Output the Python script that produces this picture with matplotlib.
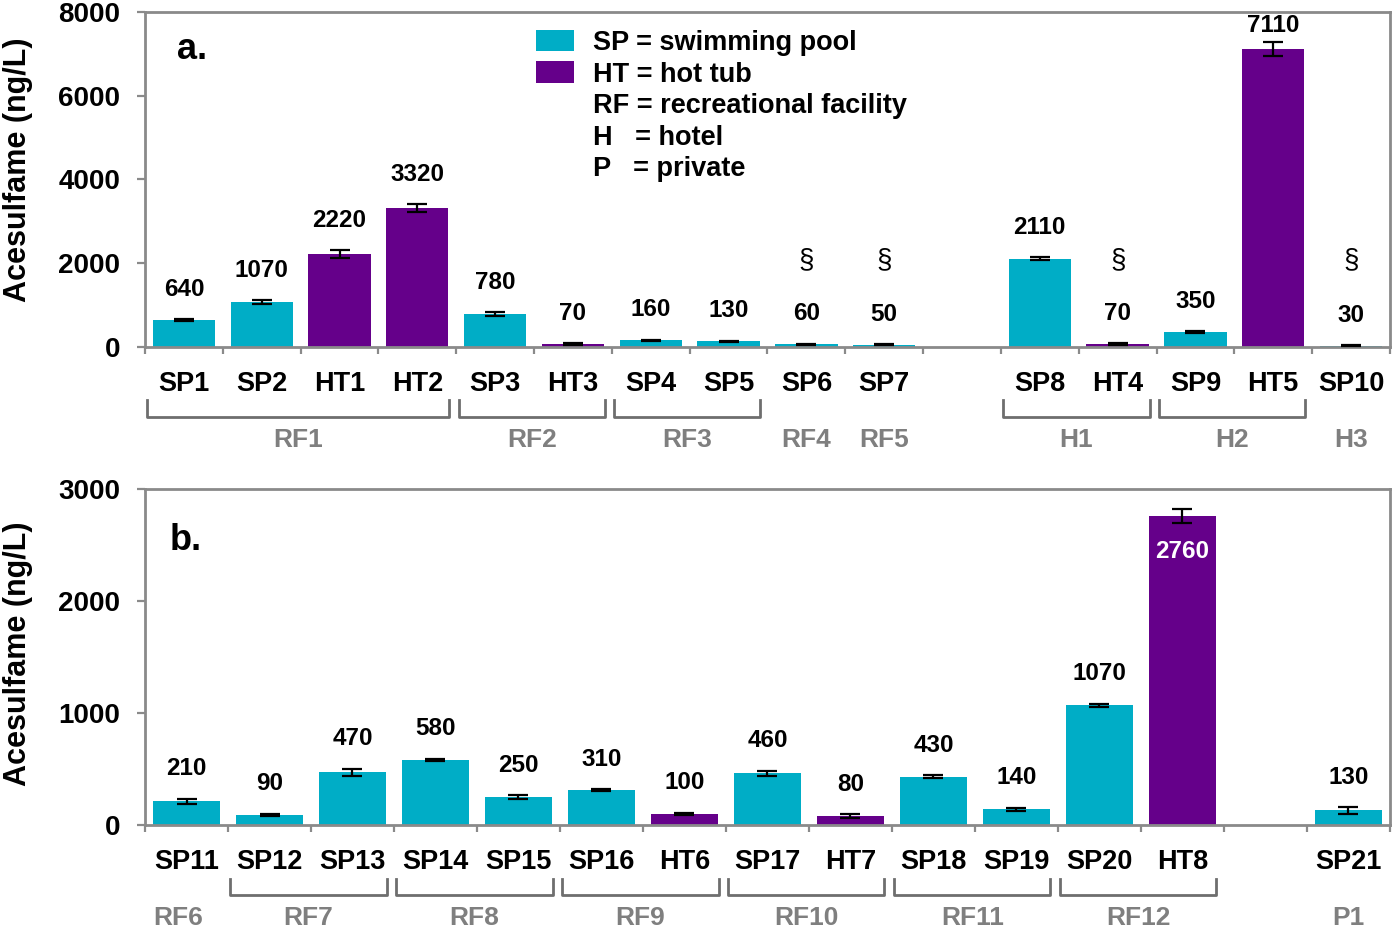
import numpy as np
import matplotlib
matplotlib.use("Agg")
import matplotlib.pyplot as plt
import matplotlib.transforms as mtransforms
from matplotlib.patches import Patch

plt.rcParams['font.family'] = ['Liberation Sans', 'DejaVu Sans']
plt.rcParams['font.weight'] = 'bold'

# ---- data (panel a) ----
top_names = ["SP1", "SP2", "HT1", "HT2", "SP3", "HT3", "SP4", "SP5", "SP6", "SP7",
             "", "SP8", "HT4", "SP9", "HT5", "SP10"]
top_values = [640, 1070, 2220, 3320, 780, 70, 160, 130, 60, 50,
              np.nan, 2110, 70, 350, 7110, 30]
top_errors = [25, 40, 95, 85, 45, 15, 15, 15, 15, 10,
              np.nan, 30, 15, 20, 170, 8]
top_groups = [("RF1", "SP1", "HT2"), ("RF2", "SP3", "HT3"), ("RF3", "SP4", "SP5"),
              ("RF4", "SP6", "SP6"), ("RF5", "SP7", "SP7"), ("H1", "SP8", "HT4"),
              ("H2", "SP9", "HT5"), ("H3", "SP10", "SP10")]
top_flagged = ["SP6", "SP7", "HT4", "SP10"]

# ---- data (panel b) ----
bot_names = ["SP11", "SP12", "SP13", "SP14", "SP15", "SP16", "HT6", "SP17", "HT7",
             "SP18", "SP19", "SP20", "HT8", "", "SP21"]
bot_values = [210, 90, 470, 580, 250, 310, 100, 460, 80, 430, 140, 1070, 2760, np.nan, 130]
bot_errors = [25, 10, 30, 12, 15, 10, 10, 25, 15, 12, 12, 12, 65, np.nan, 30]
bot_groups = [("RF6", "SP11", "SP11"), ("RF7", "SP12", "SP13"), ("RF8", "SP14", "SP15"),
              ("RF9", "SP16", "HT6"), ("RF10", "SP17", "HT7"), ("RF11", "SP18", "SP19"),
              ("RF12", "SP20", "HT8"), ("P1", "SP21", "SP21")]

legend_labels = ["SP = swimming pool", "HT = hot tub", "RF = recreational facility",
                 "H   = hotel", "P   = private"]

TEAL = "#00ADC6"
PURPLE = "#65008A"
GRAY = "#8a8a8a"
BRACKET = "#6e6e6e"
LABEL_GRAY = "#7f7f7f"


def draw_panel(ax, names, values, errors, groups, ymax, ystep, tag, tag_pos,
               ylabel_y, inside=(), capped=(), flagged=()):
    x = np.arange(len(names))
    colors = [PURPLE if n.startswith("HT") else TEAL for n in names]
    ax.bar(x, values, width=0.8, color=colors, zorder=2)
    ax.errorbar(x, values, yerr=errors, fmt='none', ecolor='black',
                elinewidth=1.6, capsize=7, capthick=1.6, zorder=3)

    # value labels
    for xi, n, v, e in zip(x, names, values, errors):
        if np.isnan(v):
            continue
        if n in inside:
            ax.annotate(f"{v:.0f}", (xi, v), xytext=(0, -35), textcoords='offset pixels',
                        ha='center', va='center', fontsize=17.5, color='white')
        else:
            off = 17 if n in capped else 30
            ax.annotate(f"{v:.0f}", (xi, v + e), xytext=(0, off), textcoords='offset pixels',
                        ha='center', va='center', fontsize=17.5)

    for n in flagged:
        ax.text(names.index(n), 2080, "§", ha='center', va='center',
                fontsize=20, fontweight='normal')

    ax.set_xlim(-0.5, len(names) - 0.5)
    ax.set_ylim(0, ymax)
    ax.set_yticks(np.arange(0, ymax + 1, ystep))
    ax.set_xticks(np.arange(-0.5, len(names)))
    ax.set_xticks(x, names, minor=True)
    ax.tick_params(axis='x', which='major', direction='out', length=5, width=1.6,
                   color=GRAY, labelbottom=False)
    ax.tick_params(axis='x', which='minor', length=0, pad=17, labelsize=19.5)
    ax.tick_params(axis='y', direction='out', length=6, width=1.6, color=GRAY,
                   labelsize=20, pad=12)
    for s in ax.spines.values():
        s.set_color(GRAY)
        s.set_linewidth(2)

    # group brackets and labels
    trans = mtransforms.blended_transform_factory(ax.transData, ax.transAxes)
    for label, first, last in groups:
        i0, i1 = names.index(first), names.index(last)
        if i0 != i1:
            x0, x1 = i0 - 0.47, i1 + 0.41
            ax.plot([x0, x0, x1, x1], [-0.16, -0.21, -0.21, -0.16], transform=trans,
                    color=BRACKET, lw=2, clip_on=False, solid_joinstyle='round')
            cx = (x0 + x1) / 2
        else:
            cx = i0 - 0.1 if label == "RF6" else i0
        ax.text(cx, -0.278, label, transform=trans, ha='center', va='center',
                color=LABEL_GRAY, fontsize=19)

    ax.text(tag_pos[0], tag_pos[1], tag, transform=ax.transAxes, ha='center',
            va='center', fontsize=26)
    ax.set_ylabel("Acesulfame (ng/L)", fontsize=22, fontweight='bold')
    ax.yaxis.set_label_coords(-0.09, ylabel_y)


fig = plt.figure(figsize=(13.93, 9.30), dpi=100)
ax_a = fig.add_axes([0.1041, 0.627, 0.8937, 0.360])
ax_b = fig.add_axes([0.1041, 0.113, 0.8937, 0.361])

draw_panel(ax_a, top_names, top_values, top_errors, top_groups, 8000, 2000,
           "a.", (0.038, 0.887), 0.53, capped=("HT5",), flagged=top_flagged)
draw_panel(ax_b, bot_names, bot_values, bot_errors, bot_groups, 3000, 1000,
           "b.", (0.033, 0.848), 0.51, inside=("HT8",))

handles = [Patch(facecolor=TEAL), Patch(facecolor=PURPLE)] + \
          [Patch(facecolor='none', edgecolor='none') for _ in range(3)]
ax_a.legend(handles, legend_labels, loc='upper left', bbox_to_anchor=(0.314, 0.947),
            frameon=False, fontsize=19.5, handlelength=1.4, handleheight=0.85,
            handletextpad=0.72, labelspacing=0.2, borderpad=0, borderaxespad=0)

fig.savefig("out.png", dpi=100)
